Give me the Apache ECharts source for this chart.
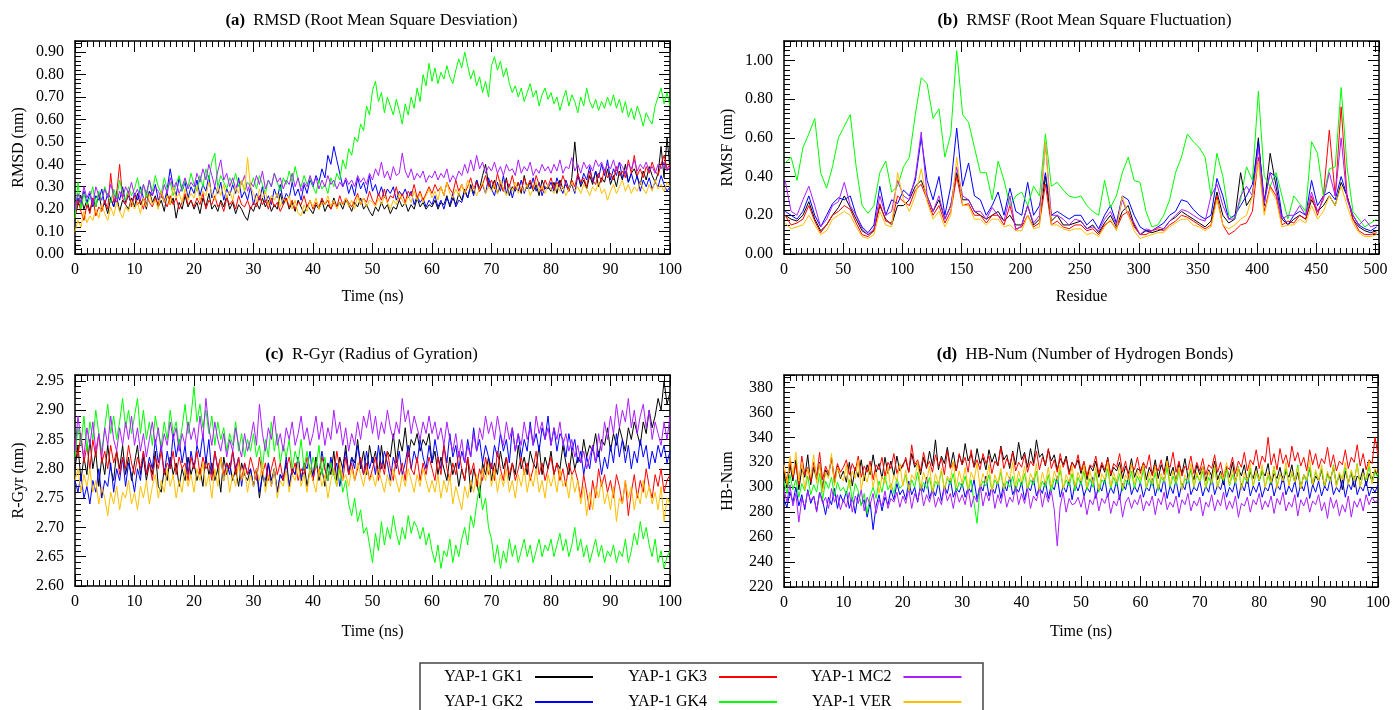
<!DOCTYPE html>
<html><head><meta charset="utf-8">
<script src="https://cdn.jsdelivr.net/npm/echarts@6/dist/echarts.min.js"></script>
<style>html,body{margin:0;padding:0;background:#fff}#c{width:1393px;height:710px}</style>
</head><body><div id="c"></div><script>
const seriesNames = ['YAP-1 GK1','YAP-1 GK2','YAP-1 GK3','YAP-1 GK4','YAP-1 MC2','YAP-1 VER'];
const colors = ['#000000','#0000ff','#ff0000','#00ff00','#aa1eff','#ffbf00'];
const timeNs = Array.from({length:201},(_,i)=>i/2);
const residues = Array.from({length:101},(_,i)=>1+5*i);

// (a) RMSD, every 0.5 ns
const rmsdGK1 = [0.17,0.22,0.26,0.2,0.24,0.19,0.25,0.21,0.27,0.2,0.23,0.18,0.25,0.21,0.26,0.19,0.24,0.22,0.2,0.25,
0.21,0.27,0.22,0.25,0.2,0.28,0.23,0.26,0.21,0.24,0.19,0.27,0.22,0.25,0.16,0.23,0.2,0.26,0.21,0.24,
0.2,0.23,0.18,0.25,0.21,0.27,0.2,0.22,0.19,0.24,0.21,0.26,0.2,0.23,0.18,0.22,0.2,0.17,0.15,0.21,
0.19,0.23,0.2,0.25,0.21,0.24,0.19,0.22,0.2,0.27,0.22,0.25,0.2,0.23,0.19,0.24,0.21,0.18,0.22,0.2,
0.18,0.22,0.2,0.24,0.19,0.22,0.2,0.25,0.21,0.23,0.2,0.24,0.22,0.19,0.23,0.21,0.25,0.2,0.22,0.19,
0.17,0.21,0.19,0.23,0.2,0.22,0.18,0.21,0.2,0.24,0.21,0.23,0.19,0.22,0.2,0.25,0.21,0.23,0.2,0.22,
0.21,0.24,0.2,0.23,0.22,0.26,0.21,0.25,0.22,0.27,0.24,0.29,0.25,0.31,0.27,0.33,0.29,0.35,0.4,0.31,
0.29,0.33,0.27,0.31,0.28,0.34,0.26,0.3,0.28,0.32,0.27,0.35,0.29,0.32,0.28,0.31,0.26,0.33,0.29,0.3,
0.28,0.32,0.27,0.33,0.29,0.31,0.28,0.34,0.5,0.36,0.3,0.33,0.29,0.35,0.31,0.37,0.3,0.34,0.32,0.38,
0.31,0.35,0.3,0.37,0.33,0.4,0.32,0.36,0.38,0.34,0.31,0.37,0.33,0.39,0.35,0.32,0.36,0.48,0.34,0.52,0.38];
const rmsdGK2 = [0.2,0.25,0.22,0.28,0.23,0.27,0.21,0.26,0.24,0.29,0.22,0.27,0.25,0.21,0.28,0.24,0.3,0.23,0.26,0.22,
0.27,0.24,0.3,0.25,0.22,0.28,0.26,0.31,0.24,0.27,0.23,0.29,0.38,0.3,0.26,0.34,0.28,0.32,0.25,0.3,
0.27,0.33,0.26,0.31,0.28,0.35,0.25,0.3,0.27,0.32,0.24,0.29,0.26,0.31,0.27,0.34,0.25,0.28,0.24,0.3,
0.22,0.27,0.24,0.3,0.23,0.26,0.22,0.29,0.25,0.31,0.23,0.27,0.25,0.32,0.26,0.29,0.24,0.31,0.27,0.33,
0.3,0.35,0.32,0.38,0.34,0.44,0.4,0.48,0.42,0.36,0.3,0.33,0.27,0.31,0.26,0.34,0.29,0.32,0.27,0.35,
0.28,0.31,0.26,0.3,0.25,0.29,0.27,0.3,0.24,0.28,0.26,0.29,0.25,0.28,0.22,0.26,0.23,0.25,0.21,0.24,
0.22,0.26,0.21,0.24,0.2,0.25,0.22,0.27,0.21,0.24,0.23,0.28,0.25,0.3,0.26,0.33,0.28,0.31,0.27,0.34,
0.29,0.26,0.32,0.28,0.35,0.27,0.31,0.25,0.3,0.28,0.33,0.27,0.31,0.29,0.34,0.28,0.32,0.26,0.3,0.29,
0.32,0.28,0.34,0.3,0.27,0.33,0.29,0.31,0.27,0.35,0.31,0.36,0.33,0.39,0.32,0.37,0.34,0.4,0.35,0.42,
0.33,0.38,0.35,0.41,0.34,0.37,0.32,0.36,0.31,0.35,0.28,0.33,0.3,0.34,0.29,0.32,0.3,0.35,0.31,0.28,0.3];
const rmsdGK3 = [0.16,0.24,0.19,0.15,0.22,0.18,0.25,0.17,0.21,0.19,0.24,0.2,0.36,0.23,0.27,0.4,0.25,0.22,0.28,0.21,
0.26,0.22,0.24,0.2,0.27,0.23,0.21,0.25,0.22,0.28,0.24,0.21,0.26,0.22,0.25,0.2,0.23,0.27,0.22,0.24,
0.21,0.25,0.22,0.27,0.2,0.24,0.22,0.26,0.21,0.23,0.19,0.25,0.22,0.24,0.2,0.26,0.22,0.21,0.24,0.2,
0.23,0.21,0.26,0.22,0.24,0.2,0.25,0.21,0.23,0.19,0.22,0.25,0.21,0.24,0.2,0.23,0.22,0.26,0.21,0.24,
0.2,0.23,0.21,0.25,0.22,0.24,0.2,0.23,0.21,0.26,0.22,0.25,0.23,0.21,0.24,0.27,0.22,0.25,0.23,0.28,
0.24,0.22,0.27,0.24,0.29,0.23,0.26,0.25,0.3,0.24,0.27,0.23,0.28,0.26,0.31,0.25,0.28,0.24,0.27,0.3,
0.27,0.31,0.28,0.3,0.26,0.32,0.29,0.27,0.33,0.28,0.31,0.27,0.3,0.34,0.29,0.32,0.28,0.31,0.35,0.3,
0.33,0.29,0.36,0.31,0.28,0.33,0.3,0.35,0.29,0.32,0.28,0.34,0.3,0.33,0.29,0.35,0.31,0.28,0.33,0.3,
0.34,0.29,0.32,0.3,0.35,0.31,0.28,0.33,0.3,0.36,0.32,0.34,0.3,0.37,0.33,0.31,0.36,0.32,0.38,0.34,
0.36,0.33,0.39,0.35,0.37,0.34,0.42,0.36,0.44,0.35,0.38,0.34,0.39,0.36,0.41,0.37,0.35,0.4,0.44,0.38,0.4];
const rmsdGK4 = [0.16,0.32,0.2,0.27,0.22,0.25,0.3,0.21,0.28,0.24,0.3,0.26,0.23,0.29,0.25,0.33,0.27,0.24,0.3,0.26,
0.29,0.34,0.27,0.31,0.25,0.33,0.28,0.35,0.3,0.27,0.34,0.29,0.32,0.26,0.31,0.35,0.28,0.33,0.3,0.36,
0.31,0.28,0.35,0.3,0.38,0.33,0.41,0.45,0.3,0.35,0.32,0.29,0.34,0.31,0.36,0.3,0.33,0.28,0.32,0.3,
0.34,0.29,0.35,0.31,0.27,0.33,0.3,0.36,0.32,0.28,0.34,0.31,0.37,0.32,0.39,0.33,0.3,0.35,0.31,0.34,
0.3,0.27,0.33,0.29,0.31,0.27,0.34,0.3,0.36,0.33,0.42,0.38,0.47,0.44,0.52,0.5,0.58,0.55,0.66,0.62,
0.73,0.77,0.68,0.72,0.63,0.7,0.66,0.62,0.69,0.64,0.58,0.67,0.62,0.7,0.65,0.74,0.68,0.8,0.75,0.85,
0.77,0.83,0.76,0.81,0.78,0.84,0.79,0.76,0.82,0.87,0.83,0.9,0.84,0.78,0.82,0.75,0.79,0.72,0.77,0.7,
0.84,0.88,0.82,0.86,0.79,0.83,0.76,0.72,0.75,0.7,0.74,0.68,0.72,0.76,0.7,0.73,0.66,0.71,0.74,0.69,
0.72,0.67,0.7,0.64,0.69,0.73,0.66,0.71,0.68,0.63,0.7,0.66,0.74,0.68,0.65,0.69,0.64,0.68,0.65,0.7,
0.66,0.71,0.65,0.69,0.63,0.68,0.61,0.65,0.6,0.66,0.62,0.57,0.63,0.6,0.58,0.66,0.7,0.74,0.67,0.72,0.66];
const rmsdMC2 = [0.2,0.27,0.23,0.3,0.25,0.28,0.22,0.3,0.26,0.24,0.29,0.25,0.31,0.27,0.23,0.28,0.25,0.3,0.27,0.32,
0.26,0.29,0.24,0.31,0.27,0.33,0.26,0.3,0.28,0.25,0.31,0.27,0.34,0.29,0.32,0.27,0.3,0.34,0.29,0.32,
0.3,0.36,0.32,0.38,0.33,0.4,0.35,0.3,0.37,0.42,0.33,0.36,0.3,0.34,0.29,0.33,0.31,0.35,0.28,0.32,
0.3,0.35,0.31,0.37,0.29,0.33,0.3,0.36,0.32,0.34,0.29,0.33,0.31,0.36,0.3,0.34,0.28,0.32,0.3,0.35,
0.31,0.34,0.29,0.33,0.3,0.35,0.31,0.33,0.29,0.32,0.3,0.34,0.31,0.33,0.3,0.35,0.32,0.34,0.31,0.36,
0.33,0.38,0.35,0.41,0.34,0.37,0.33,0.39,0.35,0.36,0.45,0.37,0.34,0.38,0.33,0.36,0.34,0.37,0.32,0.35,
0.34,0.37,0.33,0.36,0.34,0.38,0.32,0.35,0.33,0.37,0.35,0.4,0.36,0.42,0.37,0.44,0.38,0.41,0.36,0.39,
0.37,0.41,0.36,0.39,0.35,0.4,0.37,0.38,0.35,0.42,0.36,0.39,0.37,0.41,0.35,0.38,0.36,0.4,0.37,0.39,
0.36,0.4,0.37,0.42,0.36,0.39,0.38,0.43,0.37,0.4,0.36,0.41,0.38,0.4,0.37,0.42,0.39,0.41,0.37,0.4,
0.38,0.42,0.37,0.41,0.39,0.36,0.4,0.38,0.42,0.37,0.4,0.38,0.41,0.37,0.39,0.36,0.4,0.38,0.41,0.37,0.39];
const rmsdVER = [0.1,0.15,0.12,0.19,0.14,0.17,0.15,0.2,0.16,0.22,0.18,0.15,0.21,0.17,0.23,0.19,0.16,0.21,0.19,0.24,
0.2,0.23,0.18,0.25,0.21,0.27,0.22,0.24,0.2,0.28,0.23,0.26,0.22,0.3,0.25,0.27,0.23,0.29,0.24,0.27,
0.25,0.3,0.24,0.28,0.26,0.32,0.27,0.24,0.3,0.26,0.31,0.25,0.28,0.24,0.3,0.27,0.33,0.28,0.43,0.3,
0.27,0.23,0.29,0.25,0.28,0.22,0.26,0.24,0.27,0.21,0.25,0.23,0.26,0.2,0.24,0.18,0.17,0.22,0.19,0.24,
0.21,0.25,0.2,0.23,0.22,0.26,0.21,0.24,0.2,0.23,0.22,0.25,0.21,0.24,0.2,0.26,0.22,0.25,0.21,0.24,
0.23,0.21,0.25,0.22,0.26,0.23,0.2,0.24,0.22,0.27,0.24,0.22,0.26,0.23,0.28,0.24,0.27,0.23,0.26,0.29,
0.25,0.28,0.24,0.3,0.26,0.32,0.27,0.25,0.29,0.26,0.31,0.27,0.33,0.28,0.3,0.26,0.29,0.32,0.27,0.3,
0.28,0.31,0.27,0.33,0.29,0.26,0.3,0.28,0.32,0.27,0.3,0.28,0.31,0.26,0.29,0.32,0.28,0.3,0.27,0.31,
0.29,0.27,0.31,0.28,0.3,0.26,0.29,0.32,0.28,0.3,0.27,0.31,0.29,0.26,0.3,0.28,0.32,0.27,0.29,0.24,
0.28,0.31,0.27,0.3,0.33,0.28,0.31,0.27,0.3,0.28,0.32,0.29,0.27,0.31,0.28,0.33,0.29,0.31,0.28,0.32,0.3];

// (b) RMSF, every 5 residues
const rmsfGK1 = [0.2,0.18,0.17,0.2,0.27,0.18,0.12,0.15,0.2,0.24,0.3,0.24,0.18,0.12,0.1,0.12,0.25,0.18,0.15,0.25,0.25,0.28,0.35,0.38,0.3,0.22,0.28,0.18,0.25,0.42,0.28,0.28,0.22,0.2,0.18,0.2,0.22,0.17,0.2,0.15,0.15,0.25,0.15,0.18,0.4,0.17,0.2,0.15,0.15,0.16,0.17,0.13,0.15,0.11,0.16,0.2,0.14,0.22,0.25,0.15,0.1,0.12,0.11,0.12,0.13,0.17,0.19,0.22,0.2,0.18,0.16,0.14,0.17,0.32,0.2,0.16,0.18,0.42,0.25,0.3,0.6,0.25,0.52,0.35,0.18,0.15,0.18,0.2,0.18,0.28,0.22,0.25,0.3,0.25,0.37,0.3,0.18,0.14,0.12,0.11,0.12];
const rmsfGK2 = [0.22,0.2,0.18,0.22,0.3,0.2,0.14,0.2,0.26,0.29,0.28,0.3,0.2,0.14,0.11,0.15,0.35,0.2,0.28,0.26,0.33,0.3,0.38,0.6,0.38,0.28,0.4,0.2,0.35,0.65,0.35,0.47,0.3,0.28,0.2,0.25,0.32,0.2,0.34,0.22,0.2,0.37,0.2,0.25,0.42,0.2,0.22,0.2,0.18,0.2,0.2,0.15,0.18,0.13,0.2,0.25,0.16,0.3,0.28,0.2,0.14,0.12,0.12,0.14,0.16,0.2,0.22,0.28,0.27,0.23,0.2,0.18,0.2,0.39,0.3,0.18,0.2,0.25,0.3,0.36,0.58,0.28,0.42,0.4,0.2,0.15,0.2,0.22,0.2,0.38,0.25,0.3,0.32,0.28,0.4,0.3,0.2,0.15,0.13,0.12,0.14];
const rmsfGK3 = [0.2,0.15,0.16,0.18,0.25,0.17,0.11,0.15,0.2,0.22,0.25,0.23,0.16,0.1,0.09,0.12,0.26,0.17,0.16,0.3,0.27,0.25,0.33,0.36,0.28,0.2,0.25,0.16,0.22,0.4,0.25,0.26,0.2,0.2,0.16,0.2,0.2,0.15,0.25,0.13,0.14,0.2,0.14,0.16,0.36,0.15,0.17,0.14,0.13,0.15,0.15,0.12,0.13,0.1,0.15,0.17,0.13,0.2,0.22,0.14,0.1,0.1,0.12,0.13,0.12,0.15,0.17,0.2,0.19,0.17,0.15,0.13,0.15,0.3,0.15,0.1,0.12,0.15,0.16,0.22,0.5,0.22,0.35,0.3,0.15,0.17,0.16,0.2,0.18,0.3,0.2,0.3,0.64,0.3,0.76,0.3,0.18,0.12,0.1,0.1,0.11];
const rmsfGK4 = [0.47,0.5,0.38,0.55,0.62,0.7,0.42,0.34,0.45,0.6,0.66,0.72,0.45,0.25,0.21,0.25,0.42,0.48,0.32,0.35,0.45,0.5,0.72,0.91,0.88,0.7,0.75,0.5,0.62,1.05,0.72,0.68,0.55,0.42,0.42,0.28,0.48,0.38,0.25,0.3,0.32,0.25,0.35,0.3,0.62,0.35,0.37,0.33,0.3,0.29,0.3,0.25,0.22,0.2,0.38,0.24,0.3,0.42,0.5,0.38,0.37,0.22,0.14,0.15,0.2,0.28,0.42,0.5,0.62,0.58,0.55,0.5,0.3,0.52,0.4,0.2,0.18,0.28,0.45,0.38,0.84,0.4,0.35,0.42,0.3,0.18,0.3,0.26,0.22,0.58,0.52,0.3,0.44,0.45,0.86,0.45,0.22,0.18,0.14,0.16,0.18];
const rmsfMC2 = [0.38,0.22,0.2,0.28,0.35,0.25,0.14,0.18,0.25,0.27,0.37,0.25,0.2,0.13,0.1,0.13,0.3,0.2,0.22,0.38,0.3,0.28,0.4,0.63,0.3,0.22,0.3,0.18,0.25,0.45,0.3,0.28,0.22,0.22,0.18,0.24,0.2,0.17,0.3,0.12,0.15,0.25,0.16,0.2,0.57,0.2,0.2,0.18,0.15,0.18,0.17,0.13,0.14,0.12,0.18,0.22,0.15,0.28,0.2,0.16,0.1,0.13,0.12,0.14,0.13,0.17,0.2,0.23,0.22,0.2,0.18,0.17,0.3,0.36,0.25,0.18,0.18,0.3,0.35,0.3,0.55,0.26,0.42,0.32,0.18,0.2,0.2,0.25,0.2,0.32,0.22,0.28,0.42,0.3,0.6,0.28,0.2,0.15,0.18,0.14,0.15];
const rmsfVER = [0.16,0.13,0.14,0.15,0.2,0.15,0.1,0.12,0.18,0.2,0.22,0.2,0.14,0.09,0.08,0.1,0.22,0.15,0.14,0.42,0.28,0.22,0.3,0.44,0.27,0.18,0.22,0.14,0.2,0.5,0.25,0.25,0.18,0.18,0.15,0.18,0.18,0.14,0.15,0.12,0.12,0.2,0.13,0.14,0.58,0.15,0.15,0.13,0.12,0.13,0.13,0.1,0.11,0.09,0.14,0.18,0.12,0.3,0.2,0.12,0.08,0.09,0.1,0.11,0.11,0.14,0.16,0.18,0.18,0.15,0.14,0.12,0.14,0.28,0.15,0.13,0.15,0.18,0.2,0.3,0.48,0.2,0.34,0.28,0.14,0.15,0.15,0.18,0.16,0.25,0.18,0.22,0.3,0.25,0.35,0.25,0.16,0.11,0.09,0.09,0.1];

// (c) R-Gyr, every 0.5 ns
const rgGK1 = [2.8,2.84,2.78,2.82,2.79,2.85,2.8,2.83,2.77,2.82,2.79,2.84,2.8,2.78,2.83,2.8,2.84,2.79,2.82,2.78,
2.81,2.84,2.79,2.82,2.78,2.81,2.79,2.83,2.77,2.76,2.8,2.78,2.82,2.79,2.81,2.77,2.8,2.78,2.82,2.79,
2.81,2.78,2.8,2.77,2.82,2.79,2.81,2.78,2.8,2.76,2.82,2.79,2.81,2.78,2.8,2.77,2.81,2.79,2.78,2.8,
2.77,2.8,2.75,2.79,2.77,2.81,2.78,2.8,2.76,2.79,2.78,2.81,2.77,2.8,2.79,2.82,2.78,2.81,2.77,2.8,
2.79,2.82,2.78,2.8,2.77,2.81,2.79,2.83,2.78,2.82,2.8,2.84,2.79,2.82,2.81,2.85,2.8,2.83,2.79,2.84,
2.81,2.83,2.79,2.84,2.8,2.83,2.82,2.86,2.81,2.85,2.83,2.87,2.82,2.85,2.84,2.86,2.83,2.85,2.84,2.86,
2.81,2.83,2.79,2.82,2.8,2.78,2.82,2.79,2.81,2.77,2.8,2.78,2.82,2.76,2.8,2.78,2.75,2.81,2.79,2.82,
2.78,2.81,2.79,2.83,2.8,2.82,2.78,2.81,2.79,2.84,2.8,2.82,2.79,2.83,2.81,2.8,2.84,2.79,2.82,2.8,
2.83,2.79,2.81,2.8,2.84,2.81,2.79,2.83,2.8,2.82,2.81,2.85,2.82,2.84,2.83,2.86,2.82,2.85,2.84,2.87,
2.83,2.86,2.84,2.87,2.85,2.83,2.87,2.85,2.88,2.86,2.84,2.88,2.86,2.9,2.87,2.89,2.92,2.9,2.95,2.91,2.93];
const rgGK2 = [2.78,2.76,2.79,2.75,2.77,2.74,2.78,2.76,2.8,2.75,2.78,2.77,2.81,2.76,2.8,2.78,2.82,2.77,2.81,2.79,
2.76,2.8,2.78,2.83,2.79,2.82,2.8,2.85,2.81,2.84,2.79,2.83,2.8,2.86,2.82,2.85,2.81,2.84,2.79,2.83,
2.8,2.84,2.82,2.86,2.81,2.85,2.79,2.83,2.8,2.82,2.78,2.81,2.79,2.83,2.8,2.82,2.77,2.81,2.79,2.8,
2.77,2.8,2.76,2.79,2.78,2.81,2.77,2.8,2.76,2.79,2.78,2.82,2.77,2.8,2.79,2.82,2.78,2.81,2.8,2.83,
2.78,2.81,2.79,2.83,2.8,2.78,2.82,2.79,2.81,2.77,2.8,2.83,2.79,2.82,2.8,2.84,2.81,2.79,2.83,2.8,
2.82,2.79,2.84,2.8,2.83,2.81,2.78,2.82,2.8,2.83,2.79,2.81,2.84,2.8,2.83,2.81,2.85,2.82,2.8,2.84,
2.81,2.85,2.82,2.8,2.84,2.81,2.86,2.82,2.84,2.8,2.83,2.81,2.85,2.82,2.87,2.83,2.85,2.81,2.84,2.82,
2.8,2.84,2.82,2.86,2.83,2.85,2.81,2.87,2.83,2.86,2.82,2.85,2.83,2.88,2.84,2.86,2.83,2.87,2.85,2.89,
2.84,2.87,2.83,2.86,2.85,2.82,2.86,2.83,2.85,2.81,2.83,2.79,2.82,2.8,2.84,2.81,2.83,2.79,2.82,2.8,
2.84,2.81,2.86,2.82,2.85,2.81,2.84,2.8,2.83,2.81,2.85,2.82,2.84,2.8,2.83,2.81,2.84,2.82,2.84,2.81,2.83];
const rgGK3 = [2.85,2.82,2.86,2.81,2.84,2.8,2.85,2.82,2.86,2.81,2.83,2.8,2.84,2.81,2.83,2.79,2.82,2.8,2.84,2.81,
2.79,2.82,2.8,2.83,2.79,2.81,2.78,2.82,2.8,2.83,2.79,2.81,2.8,2.83,2.79,2.82,2.8,2.81,2.78,2.82,
2.8,2.83,2.79,2.82,2.8,2.81,2.78,2.83,2.8,2.82,2.79,2.81,2.8,2.83,2.79,2.82,2.78,2.81,2.79,2.82,
2.8,2.78,2.82,2.79,2.81,2.78,2.8,2.82,2.79,2.81,2.78,2.8,2.82,2.79,2.81,2.78,2.8,2.79,2.82,2.8,
2.78,2.81,2.79,2.82,2.8,2.78,2.81,2.79,2.83,2.8,2.78,2.82,2.79,2.81,2.78,2.8,2.82,2.79,2.81,2.78,
2.8,2.82,2.78,2.81,2.79,2.83,2.8,2.78,2.82,2.79,2.81,2.78,2.83,2.8,2.79,2.82,2.78,2.81,2.79,2.82,
2.8,2.78,2.82,2.79,2.84,2.8,2.78,2.81,2.79,2.83,2.8,2.78,2.82,2.79,2.81,2.77,2.8,2.78,2.82,2.79,
2.81,2.78,2.83,2.8,2.78,2.82,2.79,2.81,2.78,2.8,2.82,2.79,2.81,2.78,2.8,2.83,2.79,2.81,2.78,2.8,
2.82,2.79,2.81,2.78,2.8,2.77,2.81,2.79,2.8,2.78,2.75,2.79,2.76,2.73,2.78,2.75,2.8,2.77,2.79,2.76,
2.78,2.75,2.79,2.77,2.74,2.78,2.72,2.76,2.79,2.75,2.78,2.76,2.8,2.77,2.75,2.79,2.77,2.8,2.76,2.78,2.79];
const rgGK4 = [2.82,2.87,2.84,2.89,2.83,2.88,2.85,2.9,2.86,2.83,2.87,2.91,2.86,2.89,2.85,2.88,2.92,2.87,2.9,2.86,
2.89,2.92,2.86,2.9,2.85,2.88,2.84,2.89,2.86,2.84,2.88,2.85,2.9,2.86,2.88,2.84,2.87,2.91,2.86,2.89,
2.94,2.88,2.91,2.87,2.9,2.86,2.89,2.84,2.88,2.85,2.87,2.83,2.86,2.84,2.88,2.83,2.86,2.82,2.85,2.83,
2.86,2.82,2.84,2.8,2.85,2.82,2.88,2.83,2.86,2.81,2.84,2.82,2.85,2.8,2.83,2.81,2.85,2.8,2.83,2.79,
2.82,2.8,2.84,2.79,2.82,2.78,2.81,2.79,2.77,2.8,2.76,2.78,2.74,2.72,2.75,2.71,2.73,2.69,2.7,2.67,
2.64,2.69,2.66,2.71,2.67,2.7,2.68,2.72,2.69,2.67,2.7,2.68,2.72,2.69,2.71,2.7,2.68,2.7,2.67,2.69,
2.66,2.64,2.67,2.63,2.66,2.65,2.68,2.64,2.67,2.65,2.68,2.7,2.67,2.72,2.7,2.74,2.77,2.73,2.75,2.7,
2.68,2.64,2.67,2.63,2.66,2.64,2.68,2.65,2.67,2.64,2.66,2.68,2.65,2.67,2.64,2.66,2.68,2.65,2.67,2.66,
2.68,2.65,2.67,2.69,2.66,2.68,2.65,2.67,2.7,2.66,2.68,2.65,2.67,2.64,2.66,2.68,2.65,2.67,2.64,2.66,
2.65,2.67,2.64,2.66,2.65,2.68,2.64,2.66,2.69,2.67,2.71,2.68,2.7,2.67,2.65,2.68,2.64,2.66,2.63,2.65,2.66];
const rgMC2 = [2.83,2.89,2.85,2.82,2.87,2.84,2.88,2.83,2.86,2.82,2.87,2.84,2.89,2.85,2.83,2.87,2.84,2.88,2.85,2.89,
2.84,2.87,2.83,2.86,2.82,2.85,2.88,2.84,2.87,2.83,2.86,2.84,2.88,2.85,2.87,2.83,2.86,2.84,2.88,2.85,
2.87,2.84,2.89,2.85,2.92,2.87,2.84,2.88,2.85,2.83,2.86,2.82,2.85,2.83,2.87,2.84,2.82,2.86,2.83,2.85,
2.88,2.84,2.91,2.86,2.83,2.87,2.85,2.89,2.84,2.86,2.83,2.87,2.85,2.88,2.84,2.86,2.89,2.85,2.87,2.84,
2.86,2.89,2.85,2.88,2.84,2.87,2.85,2.9,2.86,2.88,2.84,2.87,2.83,2.86,2.84,2.88,2.85,2.89,2.87,2.9,
2.86,2.89,2.85,2.88,2.86,2.9,2.87,2.85,2.88,2.86,2.92,2.88,2.9,2.86,2.89,2.87,2.85,2.88,2.86,2.89,
2.86,2.88,2.85,2.87,2.84,2.88,2.85,2.83,2.86,2.82,2.85,2.81,2.84,2.82,2.86,2.83,2.87,2.85,2.89,2.86,
2.88,2.85,2.89,2.86,2.84,2.88,2.85,2.87,2.83,2.86,2.84,2.88,2.85,2.87,2.84,2.89,2.86,2.88,2.85,2.87,
2.84,2.87,2.85,2.88,2.84,2.86,2.83,2.85,2.82,2.84,2.81,2.83,2.8,2.82,2.84,2.81,2.86,2.83,2.88,2.85,
2.89,2.86,2.91,2.87,2.9,2.88,2.92,2.87,2.9,2.86,2.89,2.91,2.87,2.9,2.85,2.88,2.86,2.84,2.88,2.85,2.89];
const rgVER = [2.78,2.8,2.76,2.79,2.77,2.8,2.76,2.78,2.74,2.77,2.75,2.72,2.76,2.74,2.77,2.73,2.76,2.75,2.78,2.74,
2.76,2.73,2.77,2.75,2.78,2.74,2.77,2.79,2.75,2.78,2.76,2.8,2.77,2.79,2.75,2.78,2.76,2.8,2.77,2.79,
2.76,2.8,2.78,2.81,2.77,2.79,2.75,2.8,2.77,2.82,2.78,2.8,2.76,2.79,2.77,2.81,2.78,2.8,2.76,2.79,
2.77,2.8,2.78,2.81,2.76,2.79,2.77,2.8,2.75,2.78,2.77,2.8,2.76,2.79,2.78,2.81,2.77,2.79,2.76,2.8,
2.78,2.76,2.8,2.77,2.79,2.75,2.78,2.8,2.77,2.81,2.78,2.79,2.77,2.8,2.78,2.81,2.79,2.77,2.8,2.78,
2.79,2.77,2.8,2.78,2.76,2.79,2.77,2.8,2.78,2.76,2.79,2.77,2.8,2.78,2.76,2.79,2.77,2.8,2.78,2.76,
2.78,2.76,2.79,2.75,2.78,2.76,2.79,2.74,2.77,2.75,2.73,2.77,2.75,2.78,2.76,2.79,2.77,2.8,2.78,2.81,
2.77,2.8,2.76,2.79,2.77,2.8,2.76,2.78,2.75,2.79,2.77,2.8,2.76,2.79,2.77,2.8,2.76,2.78,2.75,2.79,
2.77,2.79,2.76,2.8,2.77,2.78,2.75,2.79,2.76,2.78,2.74,2.77,2.72,2.76,2.73,2.77,2.75,2.78,2.74,2.76,
2.73,2.77,2.71,2.75,2.74,2.78,2.75,2.77,2.73,2.76,2.74,2.78,2.75,2.77,2.74,2.76,2.73,2.77,2.71,2.75,2.74];

// (d) HB-Num, every 0.5 ns
const hbGK1 = [312,300,318,305,322,298,315,308,326,302,316,306,320,299,314,309,324,303,317,307,
313,304,320,301,316,308,322,305,318,310,326,312,319,307,324,311,321,309,325,313,
318,322,312,327,316,320,310,324,315,329,317,338,314,325,319,332,316,328,313,326,
318,335,321,327,316,331,319,324,314,330,320,327,317,333,322,326,315,329,318,336,
322,328,316,331,319,338,324,327,317,330,321,326,314,323,318,325,312,320,316,322,
311,319,306,317,313,321,308,318,312,324,309,316,313,320,307,317,311,323,308,315,
313,319,306,316,310,322,307,318,312,325,309,316,304,319,311,323,308,314,306,318,
310,317,305,314,309,321,306,313,302,316,308,320,304,315,309,318,303,312,307,317,
305,313,309,319,302,311,307,316,304,313,308,318,303,312,299,310,306,315,301,309,
305,314,300,311,306,316,302,310,298,313,304,312,300,309,306,315,301,311,305,314,308];
const hbGK2 = [290,284,296,288,300,285,294,282,298,287,293,281,296,289,278,292,286,299,283,294,
288,297,283,292,279,295,286,290,276,288,266,285,294,281,292,286,298,290,303,294,
298,290,305,294,300,288,302,296,308,291,299,293,304,289,301,295,307,292,299,296,
303,292,300,296,306,290,302,297,309,293,300,295,305,291,303,297,308,294,300,296,
304,290,301,297,307,293,300,295,305,291,302,298,309,292,301,296,306,290,303,297,
305,293,300,296,308,291,302,297,307,292,300,295,306,290,303,298,309,294,301,296,
304,292,300,297,307,293,302,296,308,291,301,295,306,292,303,298,310,294,300,297,
305,293,301,296,309,294,302,298,307,292,300,296,305,291,303,297,308,293,301,296,
304,292,300,297,306,293,302,298,309,294,301,296,305,292,303,297,307,291,302,296,
305,293,301,297,308,294,300,296,306,292,303,298,309,294,301,297,305,293,300,296,302];
const hbGK3 = [315,305,322,308,318,302,325,310,316,304,320,309,328,306,317,311,323,307,319,312,
316,322,310,319,313,325,308,317,312,321,306,318,314,324,309,320,315,327,311,318,
316,324,312,334,318,322,313,328,316,321,312,326,317,323,310,329,315,320,313,327,
318,324,312,330,316,322,314,327,319,325,311,321,317,332,315,323,318,328,313,320,
316,326,312,321,317,329,314,324,318,331,315,322,312,327,316,323,310,320,315,326,
313,321,309,318,316,325,311,320,314,323,310,319,316,327,312,321,308,318,314,324,
311,320,315,326,309,318,313,322,310,319,316,328,312,321,309,317,314,325,311,320,
313,323,310,318,315,326,312,320,308,317,314,324,311,321,316,328,313,322,318,330,
315,325,320,340,318,327,314,331,319,326,316,333,321,328,317,324,313,330,318,327,
315,323,319,332,316,326,313,321,318,330,315,324,320,334,317,327,314,322,319,340,326];
const hbGK4 = [305,295,310,298,306,292,303,297,309,294,302,296,311,290,305,299,308,293,304,297,
300,294,306,289,303,297,285,295,279,293,300,291,305,296,309,298,303,295,307,299,
302,310,296,306,300,312,297,304,299,308,295,305,301,313,298,307,302,311,296,304,
300,309,297,306,287,271,299,305,301,310,297,306,302,312,298,305,300,309,296,307,
301,311,298,306,302,313,297,305,300,310,296,307,303,314,299,306,301,311,297,308,
302,313,298,307,300,312,296,306,303,315,299,308,301,311,297,306,302,313,299,309,
303,314,299,307,301,312,297,308,304,316,300,309,302,313,298,307,303,315,300,310,
304,313,299,308,302,316,300,309,305,314,301,310,303,317,299,308,304,315,301,311,
305,314,300,309,303,317,301,310,306,315,302,311,304,318,300,309,305,316,302,312,
306,315,301,310,304,318,302,311,307,316,303,312,305,319,301,310,306,317,303,312,308];
const hbMC2 = [298,288,302,285,295,272,291,284,297,289,293,280,296,287,292,283,299,288,294,282,
290,284,296,280,293,287,298,281,292,286,295,279,290,285,297,283,291,288,296,284,
293,287,299,283,295,289,301,285,294,288,298,284,292,286,300,289,295,283,297,288,
294,286,299,284,293,288,302,285,296,289,300,283,294,287,298,284,292,288,301,286,
295,287,299,283,293,289,300,284,296,288,297,282,253,285,296,280,291,286,287,292,
284,293,278,290,286,296,281,291,287,295,279,289,285,294,276,288,292,283,290,286,
294,281,289,285,293,278,291,286,296,282,288,284,293,279,290,286,295,281,289,285,
292,277,288,284,294,281,290,285,296,282,289,283,293,276,287,285,292,280,290,286,
295,282,289,284,293,279,291,286,296,281,288,284,294,277,290,285,292,280,289,286,
294,281,288,275,292,283,290,277,286,280,293,276,289,284,291,281,294,286,292,288,290];
const hbVER = [318,302,325,310,328,305,320,298,315,308,326,303,319,296,312,307,327,301,316,309,
305,318,299,313,307,322,298,311,304,317,300,312,295,309,303,316,298,310,305,319,
301,314,297,310,306,320,299,312,304,317,296,311,302,315,298,309,305,321,300,313,
303,316,298,312,306,319,300,311,304,318,297,310,303,315,299,312,306,320,301,313,
304,317,299,311,305,319,298,312,303,316,300,313,306,318,299,310,304,317,301,312,
305,318,300,313,303,316,298,311,306,320,301,312,304,317,299,310,305,319,302,313,
306,318,300,312,303,317,299,311,305,321,302,313,304,316,298,310,306,319,301,312,
305,317,300,313,303,318,299,311,306,320,302,314,304,316,298,312,305,319,301,313,
306,318,300,312,304,317,299,311,305,320,301,313,304,316,299,310,306,322,302,314,
305,318,301,313,304,317,300,312,306,320,302,314,305,318,300,311,307,321,303,315,310];

const titles = ['(a)','(b)','(c)','(d)'];
const titleTexts = ['RMSD (Root Mean Square Desviation)','RMSF (Root Mean Square Fluctuation)','R-Gyr (Radius of Gyration)','HB-Num (Number of Hydrogen Bonds)'];
const xNames = ['Time (ns)','Residue','Time (ns)','Time (ns)'];
const yNames = ['RMSD (nm)','RMSF (nm)','R-Gyr (nm)','HB-Num'];

const FONT = "'Liberation Serif','Times New Roman',serif";
const panels = [
  {grid:{left:75,top:41,width:595,height:213}, x:{min:0,max:100,interval:10,minor:10,dec:0}, y:{min:0,max:0.95,interval:0.1,minor:5,dec:2}, xs:timeNs, ys:[rmsdGK1,rmsdGK2,rmsdGK3,rmsdGK4,rmsdMC2,rmsdVER], xGap:35},
  {grid:{left:784,top:41,width:595,height:213}, x:{min:0,max:503,interval:50,minor:10,dec:0}, y:{min:0,max:1.1,interval:0.2,minor:8,dec:2}, xs:residues, ys:[rmsfGK1,rmsfGK2,rmsfGK3,rmsfGK4,rmsfMC2,rmsfVER], xGap:35},
  {grid:{left:75,top:375,width:595,height:211}, x:{min:0,max:100,interval:10,minor:10,dec:0}, y:{min:2.6,max:2.96,interval:0.05,minor:5,dec:2}, xs:timeNs, ys:[rgGK1,rgGK2,rgGK3,rgGK4,rgMC2,rgVER], xGap:38},
  {grid:{left:784,top:375,width:596,height:212}, x:{min:0,max:100,interval:10,minor:10,dec:0}, y:{min:220,max:390,interval:20,minor:5,dec:0}, xs:timeNs, ys:[hbGK1,hbGK2,hbGK3,hbGK4,hbMC2,hbVER], xGap:37}
];

function fmt(cfg){
  return function(v){
    const k = (v - cfg.min)/cfg.interval;
    if (Math.abs(k - Math.round(k)) > 1e-6) return '';
    return cfg.dec ? v.toFixed(cfg.dec) : String(Math.round(v));
  };
}
const lineSt = {color:'#000', width:1.5};
function axis(kind, gi, cfg, mirror, name, gap){
  const a = {
    type:'value', gridIndex:gi, min:cfg.min, max:cfg.max, interval:cfg.interval,
    position: kind==='x' ? (mirror?'top':'bottom') : (mirror?'right':'left'),
    axisLine:{show:true, onZero:false, lineStyle:lineSt},
    axisTick:{show:true, inside:true, length:11, lineStyle:{color:'#000', width:1}},
    minorTick:{show:true, splitNumber:cfg.minor, length:6, lineStyle:{color:'#000', width:1}},
    splitLine:{show:false}, minorSplitLine:{show:false},
    axisLabel:{show:!mirror, fontFamily:FONT, fontSize:16, color:'#000', margin: kind==='x'?8:11, formatter:fmt(cfg)}
  };
  if (!mirror) {
    a.name = name; a.nameLocation = 'middle'; a.nameGap = gap;
    a.nameTextStyle = {fontFamily:FONT, fontSize:16, color:'#000'};
  }
  return a;
}

const grids=[], xAxes=[], yAxes=[], series=[], graphics=[];
panels.forEach((p,gi)=>{
  grids.push(p.grid);
  xAxes.push(axis('x',gi,p.x,false,xNames[gi],p.xGap));
  xAxes.push(axis('x',gi,p.x,true));
  yAxes.push(axis('y',gi,p.y,false,yNames[gi],48));
  yAxes.push(axis('y',gi,p.y,true));
  seriesNames.forEach((n,k)=>{
    series.push({name:n, type:'line', xAxisIndex:gi*2, yAxisIndex:gi*2, symbol:'none', showSymbol:false,
      lineStyle:{width:1, color:colors[k]}, itemStyle:{color:colors[k]}, z:2+k,
      data:p.xs.map((x,i)=>[x,p.ys[k][i]])});
  });
  const cx = p.grid.left + p.grid.width/2 + (gi%2===1 ? 3 : -1);
  graphics.push({type:'text', x:cx, y:(gi<2?21:355),
    style:{text:'{b|'+titles[gi]+'}  '+titleTexts[gi], align:'center', verticalAlign:'middle',
      fontFamily:FONT, fontSize:16.7, fill:'#000',
      rich:{b:{fontFamily:FONT, fontSize:16.7, fontWeight:'bold', fill:'#000'}}}});
});
graphics.push({type:'rect', shape:{x:420,y:663,width:563,height:80}, style:{fill:'none', stroke:'#444', lineWidth:1.5}});

const legendCols = [{left:443, items:[0,1]},{left:627, items:[2,3]},{left:811, items:[4,5]}];
const legends = legendCols.map(c=>({
  data:c.items.map(i=>seriesNames[i]), left:c.left, top:669, orient:'vertical', align:'right', padding:0,
  itemWidth:58, itemHeight:2, itemGap:9, icon:'rect', selectedMode:false,
  textStyle:{fontFamily:FONT, fontSize:16, color:'#000', width:80, lineHeight:16, padding:[0,7,0,0]}
}));

const chart = echarts.init(document.getElementById('c'), null, {renderer:'canvas'});
chart.setOption({
  animation:false, backgroundColor:'#fff',
  grid:grids, xAxis:xAxes, yAxis:yAxes, series:series, legend:legends, graphic:graphics
});
</script></body></html>
